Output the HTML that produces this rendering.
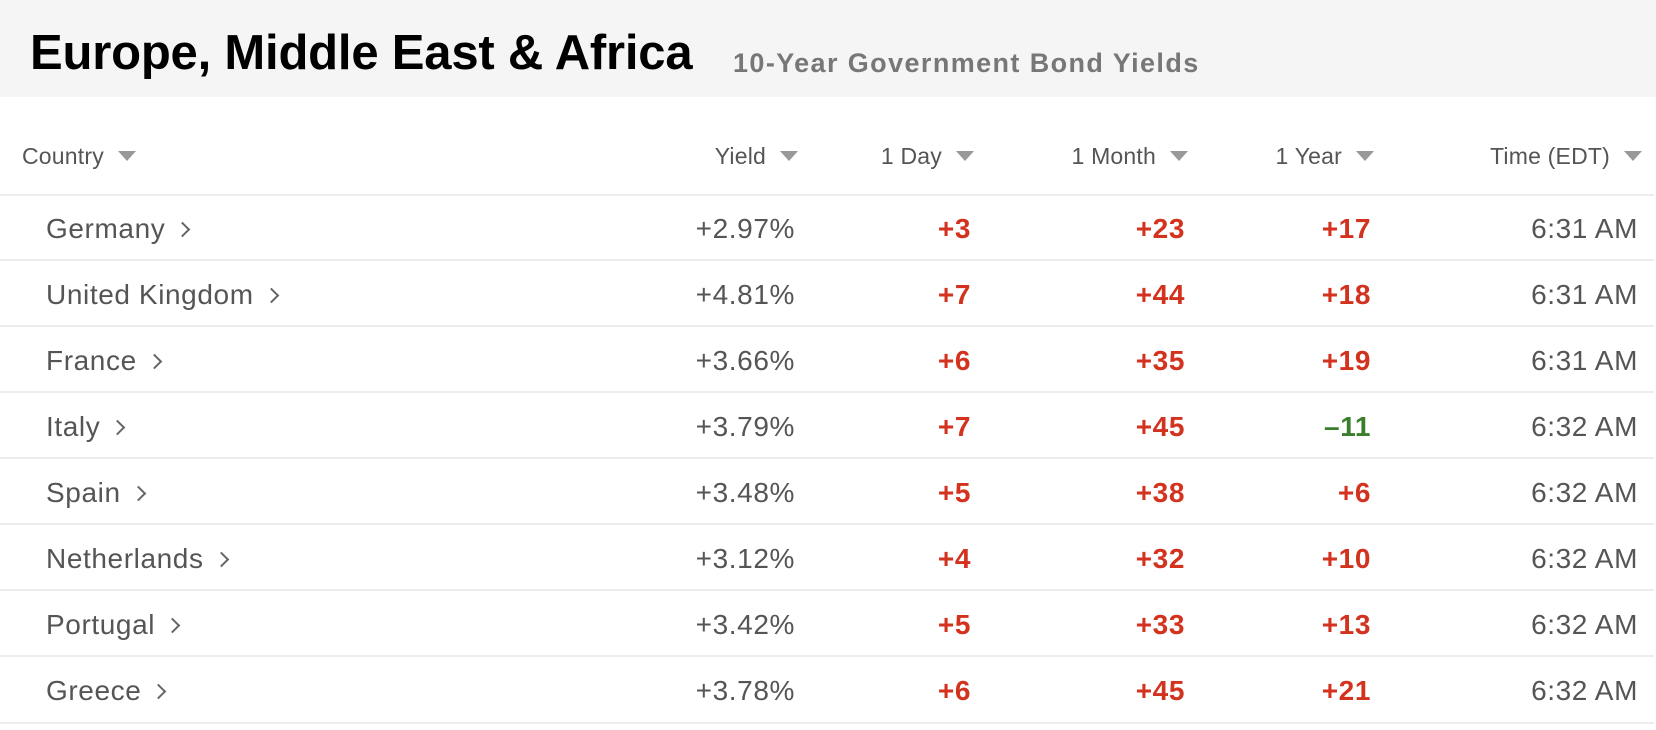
<!DOCTYPE html>
<html><head><style>
body{margin:0;width:1656px;height:730px;background:#fff;position:relative;overflow:hidden;font-family:"Liberation Sans",Arial,sans-serif}
.band{position:absolute;left:0;top:0;width:1656px;height:97px;background:#f5f5f5}
.t{position:absolute;left:30px;top:25px;font-size:49px;font-weight:bold;color:#000;letter-spacing:-0.2px}
.st{position:absolute;left:733px;top:48px;font-size:27px;font-weight:bold;color:#777;letter-spacing:1.4px}
.h{position:absolute;top:143px;font-size:23px;color:#555;white-space:nowrap;letter-spacing:0.2px}
.tri{display:inline-block;width:0;height:0;border-left:9px solid transparent;border-right:9px solid transparent;border-top:10px solid #999;margin-left:14px;vertical-align:middle;position:relative;top:-2px}
.line{position:absolute;left:0;width:1654px;height:2px;background:#ececec}
.c{position:absolute;font-size:28px;color:#555;white-space:nowrap;line-height:30px;letter-spacing:0.6px}
.r{text-align:right;width:200px}
.red{color:#d2321e;font-weight:bold}
.grn{color:#3a7f2c;font-weight:bold}
.chev{display:inline-block;width:9px;height:9px;border-right:2px solid #666;border-top:2px solid #666;transform:rotate(45deg);margin-left:12px;position:relative;top:-3px}
</style></head><body>
<div class="band"></div>
<div class="t">Europe, Middle East &amp; Africa</div>
<div class="st">10-Year Government Bond Yields</div>

<div class="h" style="left:22px">Country<span class="tri"></span></div>
<div class="h" style="right:858px">Yield<span class="tri"></span></div>
<div class="h" style="right:682px">1 Day<span class="tri"></span></div>
<div class="h" style="right:468px">1 Month<span class="tri"></span></div>
<div class="h" style="right:282px">1 Year<span class="tri"></span></div>
<div class="h" style="right:14px">Time (EDT)<span class="tri"></span></div>

<div class="line" style="top:194px"></div>
<div class="line" style="top:259px"></div>
<div class="line" style="top:325px"></div>
<div class="line" style="top:391px"></div>
<div class="line" style="top:457px"></div>
<div class="line" style="top:523px"></div>
<div class="line" style="top:589px"></div>
<div class="line" style="top:655px"></div>
<div class="line" style="top:722px"></div>

<div id="rows"></div>
<script>
var d=[["Germany","+2.97%","+3","+23","+17","6:31 AM"],
["United Kingdom","+4.81%","+7","+44","+18","6:31 AM"],
["France","+3.66%","+6","+35","+19","6:31 AM"],
["Italy","+3.79%","+7","+45","–11","6:32 AM"],
["Spain","+3.48%","+5","+38","+6","6:32 AM"],
["Netherlands","+3.12%","+4","+32","+10","6:32 AM"],
["Portugal","+3.42%","+5","+33","+13","6:32 AM"],
["Greece","+3.78%","+6","+45","+21","6:32 AM"]];
var h="";
d.forEach(function(r,i){var y=214+i*66;
h+='<div class="c" style="left:46px;top:'+y+'px">'+r[0]+'<span class="chev"></span></div>';
h+='<div class="c r" style="left:595px;top:'+y+'px">'+r[1]+'</div>';
h+='<div class="c r red" style="left:771px;top:'+y+'px">'+r[2]+'</div>';
h+='<div class="c r red" style="left:985px;top:'+y+'px">'+r[3]+'</div>';
h+='<div class="c r '+(r[4][0]=="+"?"red":"grn")+'" style="left:1171px;top:'+y+'px">'+r[4]+'</div>';
h+='<div class="c r" style="left:1438px;top:'+y+'px">'+r[5]+'</div>';});
document.getElementById("rows").innerHTML=h;
</script>
</body></html>
